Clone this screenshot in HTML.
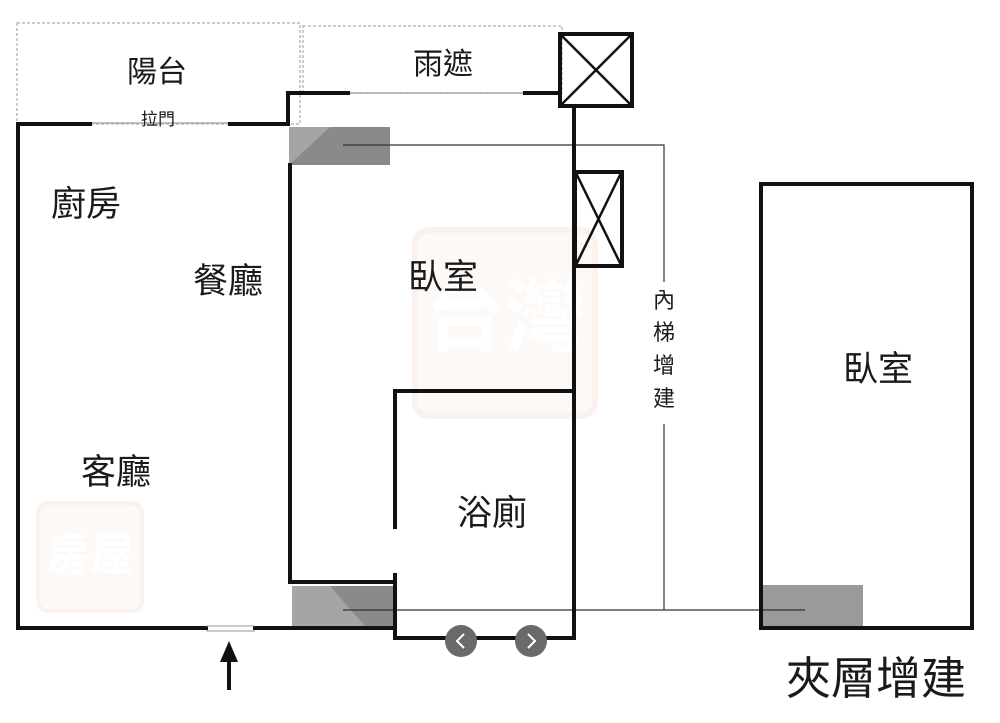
<!DOCTYPE html>
<html><head><meta charset="utf-8"><style>
html,body{margin:0;padding:0;background:#fff;width:1000px;height:723px;overflow:hidden}
text{font-family:"Liberation Sans","Noto Sans CJK TC",sans-serif;fill:#1a1a1a}
</style></head><body>
<svg width="1000" height="723" viewBox="0 0 1000 723" xmlns="http://www.w3.org/2000/svg">
<!-- watermarks -->
<g opacity="0.3">
<rect x="415" y="230" width="180" height="186" rx="14" fill="#fbeee6" stroke="#f3d6c6" stroke-width="6"/>
<text x="505" y="345" font-size="80" text-anchor="middle" style="fill:#fff;font-weight:bold">台灣</text>
<rect x="38" y="503" width="104" height="108" rx="10" fill="#fbeee6" stroke="#f3d6c6" stroke-width="4"/>
<text x="90" y="570" font-size="44" text-anchor="middle" style="fill:#fff;font-weight:bold">房屋</text>
</g>
<!-- balcony / canopy dashed -->
<g fill="none" stroke="#bbb" stroke-width="1.5" stroke-dasharray="3,2">
<rect x="17" y="23" width="283" height="101"/>
<rect x="303" y="26" width="259" height="67"/>
</g>
<line x1="90" y1="123" x2="230" y2="123" stroke="#aaa" stroke-width="1.5"/>
<line x1="348" y1="93" x2="523" y2="93" stroke="#aaa" stroke-width="1.5"/>
<!-- gray blocks -->
<rect x="289" y="127" width="101" height="38" fill="#8a8a8a"/>
<polygon points="289,127 330,127 289,165" fill="#a5a5a5"/>
<rect x="292" y="586" width="103" height="40" fill="#8a8a8a"/>
<polygon points="292,586 330,586 365,626 292,626" fill="#a5a5a5"/>
<rect x="763" y="585" width="100" height="41" fill="#9a9a9a"/>
<g stroke="#333" stroke-width="1.2" fill="none">
<polyline points="343,145 664,145 664,610"/>
<line x1="343" y1="610" x2="805" y2="610"/>
</g>
<rect x="652" y="282" width="24" height="142" fill="#fff"/>
<!-- walls -->
<g stroke="#111" stroke-width="4" fill="none" stroke-linecap="square">
<polyline points="90,124 18,124 18,628 206,628"/>
<polyline points="230,124 288,124 288,93 348,93"/>
<line x1="525" y1="93" x2="558" y2="93"/>
<line x1="574" y1="108" x2="574" y2="638"/>
<polyline points="290,165 290,582 395,582"/>
<line x1="255" y1="628" x2="395" y2="628"/>
<polyline points="395,527 395,391 574,391"/>
<polyline points="395,575 395,638 574,638"/>
<rect x="560" y="34" width="72" height="72"/>
<rect x="575" y="172" width="47" height="94"/>
<rect x="761" y="184" width="211" height="444"/>
</g>
<g stroke="#111" stroke-width="2.5">
<line x1="561" y1="35" x2="631" y2="105"/><line x1="631" y1="35" x2="561" y2="105"/>
<line x1="576" y1="173" x2="621" y2="265"/><line x1="621" y1="173" x2="576" y2="265"/>
</g>
<line x1="206" y1="626" x2="255" y2="626" stroke="#999" stroke-width="1"/>
<line x1="206" y1="631" x2="255" y2="631" stroke="#999" stroke-width="1"/>
<line x1="229" y1="660" x2="229" y2="690" stroke="#111" stroke-width="4"/>
<polygon points="229,641 220,662 238,662" fill="#111"/>
<circle cx="461" cy="641" r="16" fill="#6a6a6a"/>
<circle cx="531" cy="641" r="16" fill="#6a6a6a"/>
<polyline points="464,634 457,641 464,648" stroke="#fff" stroke-width="2" fill="none"/>
<polyline points="528,634 535,641 528,648" stroke="#fff" stroke-width="2" fill="none"/>
<!-- labels -->
<g text-anchor="middle">
<text x="157" y="82" font-size="30">陽台</text>
<text x="443" y="74" font-size="30">雨遮</text>
<text x="158" y="125" font-size="17">拉門</text>
<text x="86" y="216" font-size="35">廚房</text>
<text x="228" y="293" font-size="35">餐廳</text>
<text x="443" y="289" font-size="35">臥室</text>
<text x="116" y="484" font-size="35">客廳</text>
<text x="492" y="525" font-size="35">浴廁</text>
<text x="878" y="381" font-size="35">臥室</text>
<text x="876" y="694" font-size="45">夾層增建</text>
<text x="664" y="308" font-size="22">內</text>
<text x="664" y="340" font-size="22">梯</text>
<text x="664" y="373" font-size="22">增</text>
<text x="664" y="406" font-size="22">建</text>
</g>
</svg>
</body></html>
